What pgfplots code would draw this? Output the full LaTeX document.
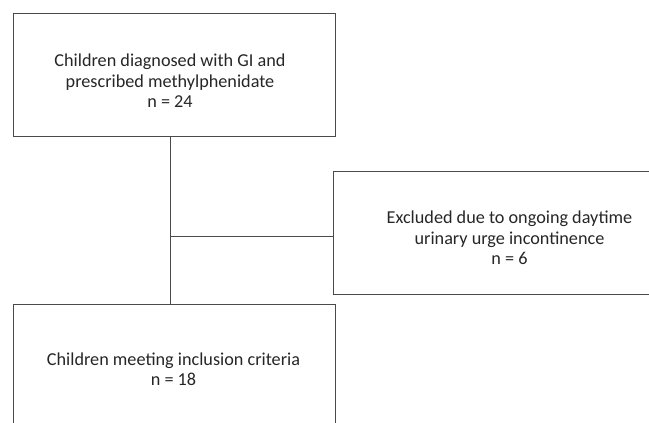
\documentclass[border=0pt]{standalone}
\usepackage{pgfplots}
\pgfplotsset{compat=1.18}
\usepackage{fontspec}
\setmainfont{Carlito}
\definecolor{txt}{HTML}{262626}
\definecolor{ln}{HTML}{4A4A4A}
\begin{document}
\begin{tikzpicture}
\begin{axis}[
  width=649pt, height=423pt, scale only axis,
  xmin=0, xmax=649, ymin=0, ymax=423, y dir=reverse,
  axis lines=none, ticks=none,
  clip=true,
]
% frame extent (invisible)
\addplot[draw=none, mark=none] coordinates {(0,0) (649,423)};
% boxes
\addplot[ln, line width=0.9pt] coordinates {(13.5,13) (335,13) (335,136) (13.5,136) (13.5,13)};
\addplot[ln, line width=0.9pt] coordinates {(700,171) (333.5,171) (333.5,294.5) (700,294.5)};
\addplot[ln, line width=0.9pt] coordinates {(13.5,450) (13.5,304) (335,304) (335,450)};
% connectors
\addplot[ln, line width=0.9pt] coordinates {(170,136) (170,304)};
\addplot[ln, line width=0.9pt] coordinates {(170,236) (333.5,236)};
\node[txt, align=center, font=\fontsize{18.2}{20.5}\selectfont] at (axis cs:170,81) {Children diagnosed with GI and\\prescribed methylphenidate\\n = 24};
\node[txt, align=center, font=\fontsize{18.2}{20.5}\selectfont] at (axis cs:509.5,238) {Excluded due to ongoing daytime\\urinary urge incontinence\\n = 6};
\node[txt, align=center, font=\fontsize{18.2}{20.5}\selectfont] at (axis cs:173.5,369) {Children meeting inclusion criteria\\n = 18};
\end{axis}
\end{tikzpicture}
\end{document}
